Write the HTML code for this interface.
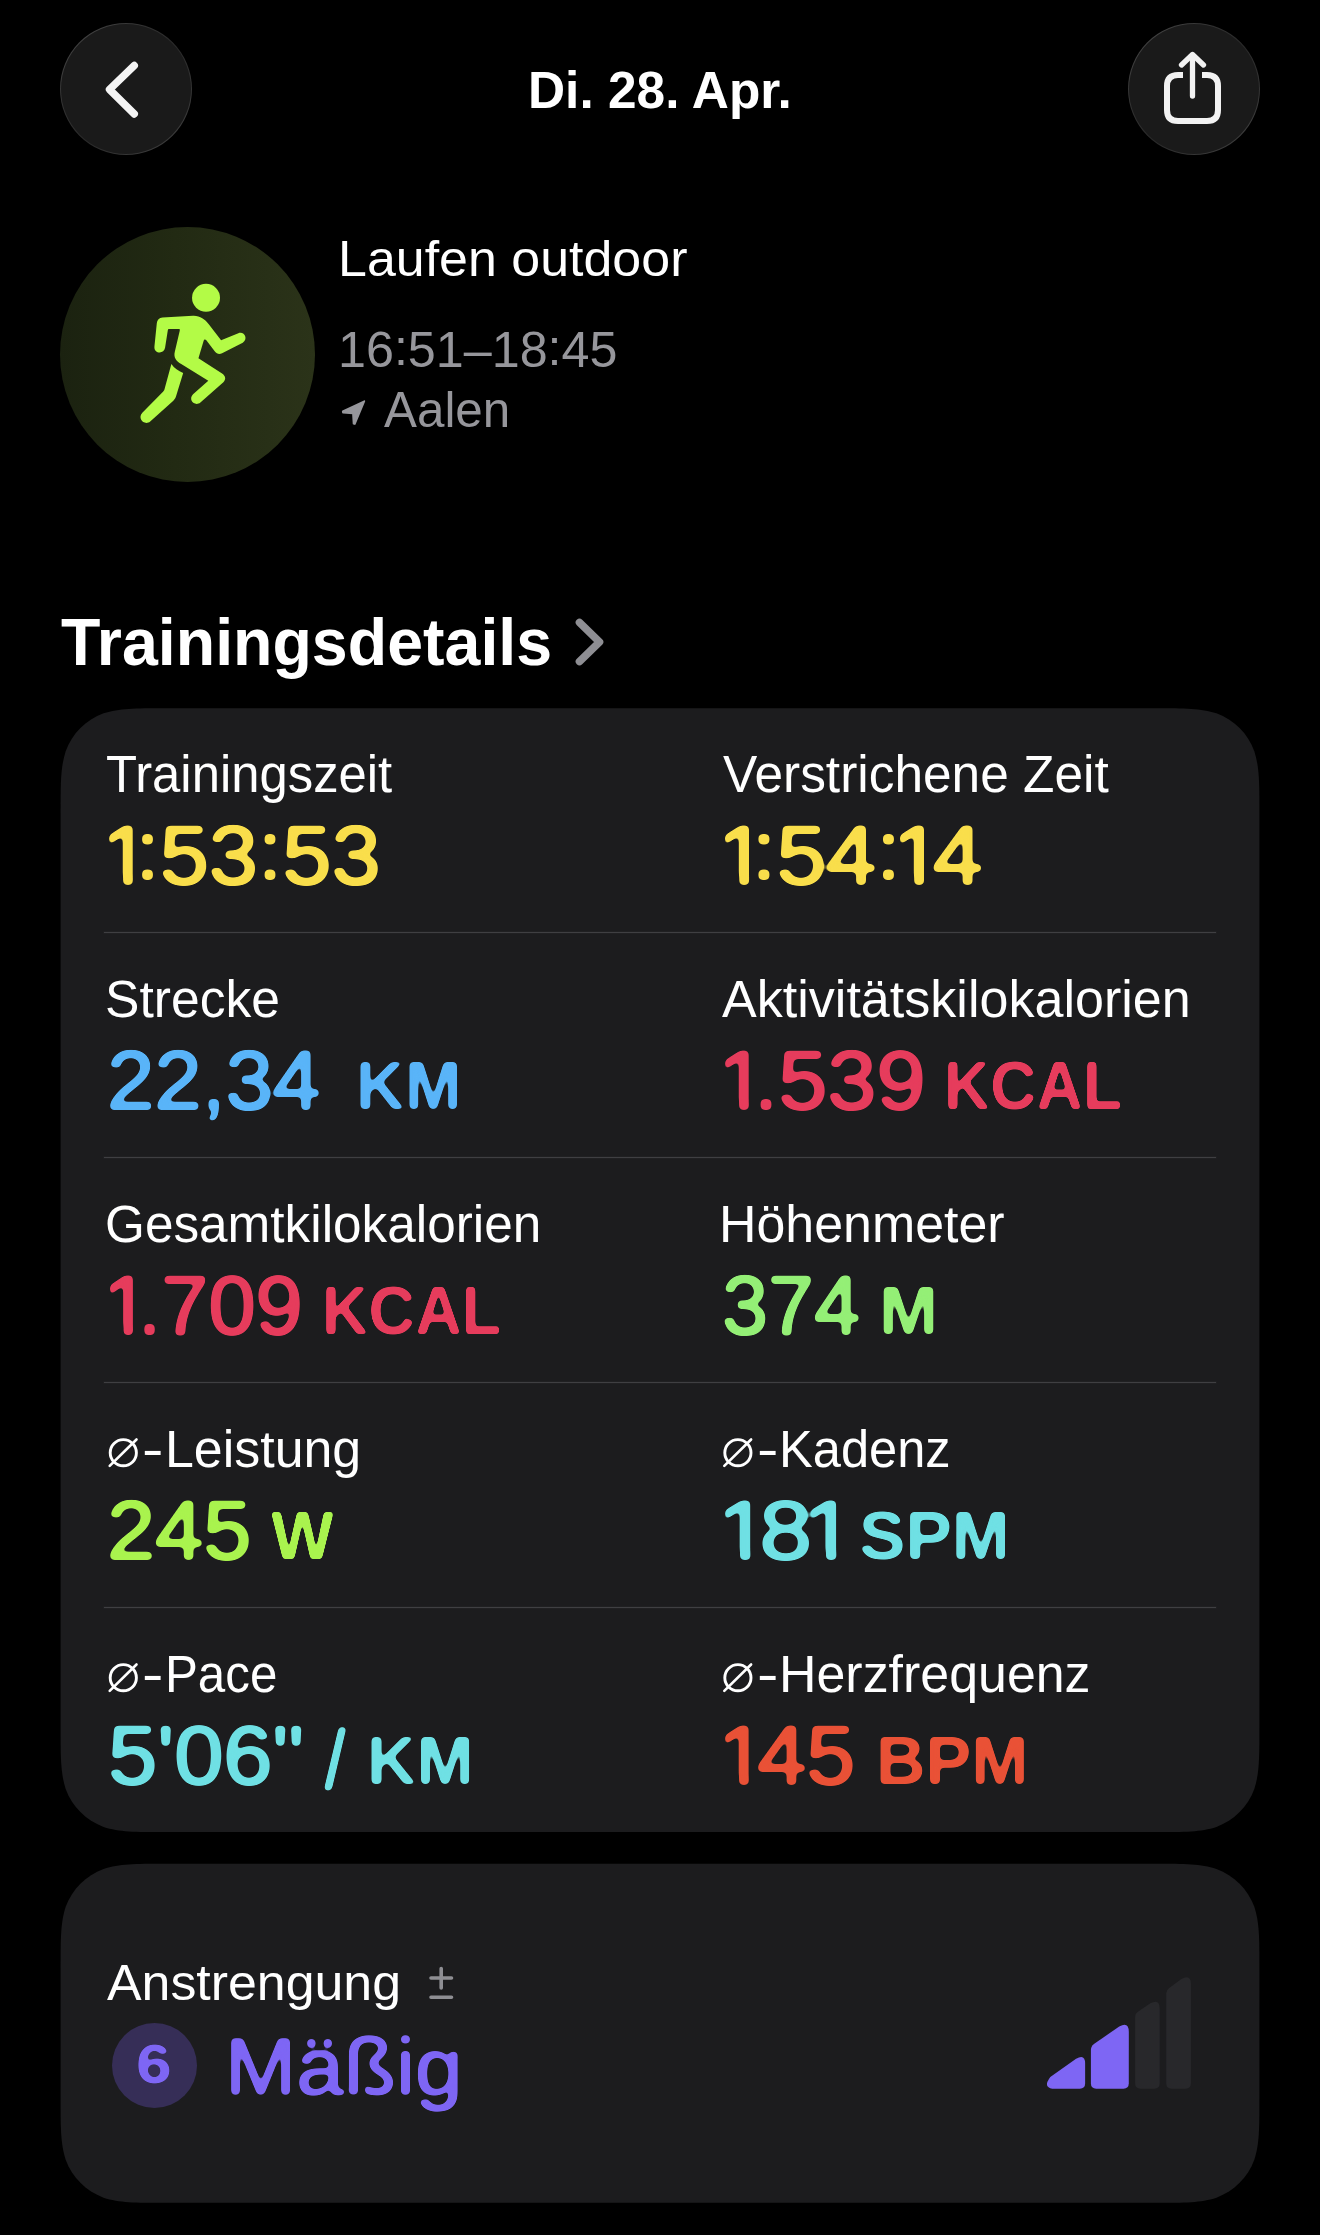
<!DOCTYPE html>
<html lang="de"><head><meta charset="utf-8"><title>Training</title>
<style>
html,body{margin:0;padding:0;background:#000;}
#app{position:relative;width:1320px;height:2235px;background:#000;overflow:hidden;font-family:"Liberation Sans",sans-serif;}
.abs{position:absolute;}
.navbtn{position:absolute;top:23px;width:132px;height:132px;border-radius:50%;box-sizing:border-box;border:1.8px solid transparent;background:linear-gradient(#1a1a1a,#1a1a1a) padding-box,linear-gradient(135deg,#4c4c4c 0%,#303030 35%,#2a2a2a 55%,#444 100%) border-box;}
.divider{position:absolute;left:104px;width:1112px;height:1px;background:#3f3f42;box-shadow:0 0 0 .5px rgba(63,63,66,.25);}
svg{position:absolute;overflow:visible;}
.value{filter:url(#rnd);}
.unit,.effort-num,.effort-text{filter:url(#rnd2);}

.t{position:absolute;height:0;line-height:0;white-space:nowrap;transform-origin:0 0;font-family:"Liberation Sans",sans-serif;}
.one{display:inline-block;width:.285em;height:0;line-height:0;text-indent:-.094em;vertical-align:baseline;
 clip-path:polygon(-.05em -.45em,.258em -.45em,.258em .4em,.149em .4em,.149em .232em,-.05em .232em);}
.one.d{margin-right:.07em;}
.one.p{margin-right:.03em;}
.col{position:relative;top:-.062em;}
</style></head>
<body>
<div id="app">
 <svg width="0" height="0" style="left:0;top:0"><defs>
  <filter id="rnd" x="-5%" y="-30%" width="110%" height="160%" color-interpolation-filters="sRGB"><feGaussianBlur in="SourceGraphic" stdDeviation="2.3"/><feColorMatrix type="matrix" values="1 0 0 0 0  0 1 0 0 0  0 0 1 0 0  0 0 0 7 -3"/></filter>
  <filter id="rnd2" x="-5%" y="-30%" width="110%" height="160%" color-interpolation-filters="sRGB"><feGaussianBlur in="SourceGraphic" stdDeviation="1.9"/><feColorMatrix type="matrix" values="1 0 0 0 0  0 1 0 0 0  0 0 1 0 0  0 0 0 7 -3"/></filter>
 </defs></svg>
 <header>
  <div class="navbtn" style="left:60px"></div>
<svg style="left:0;top:0" width="1320" height="2235" viewBox="0 0 1320 2235" aria-label="Zurück" fill="none" stroke="#f4f4f4" stroke-linecap="round" stroke-linejoin="round">
 <path d="M134.3 65.5 L109.5 89.5 L134.3 114" stroke-width="7.4"/>
</svg>

  <div class="t nav-title" style="left:528.31px;top:89.66px;font-size:51.5px;font-weight:700;color:#ffffff;transform:scaleX(0.9981)">Di. 28. Apr.</div>
  <div class="navbtn" style="left:1128px"></div>
<svg style="left:0;top:0" width="1320" height="2235" viewBox="0 0 1320 2235" aria-label="Teilen" fill="none" stroke="#f2f2f2" stroke-linecap="round" stroke-linejoin="round">
 <path d="M1183 75 L1178 75 Q1167 75 1167 86 L1167 110 Q1167 121 1178 121 L1207 121 Q1218 121 1218 110 L1218 86 Q1218 75 1207 75 L1202 75" stroke-width="6" stroke-linecap="butt"/>
 <path d="M1192.5 96 L1192.5 56" stroke-width="5.3"/>
 <path d="M1181.5 65 L1192.5 54.5 L1203.5 65" stroke-width="5.3"/>
</svg>

 </header>
 <section id="summary">
  <div class="abs" style="left:60px;top:227px;width:255px;height:255px;border-radius:50%;background:linear-gradient(90deg,#1b2210 0%,#222a13 45%,#2b3319 100%)"></div>
  
<svg style="left:130px;top:275px" width="130" height="160" viewBox="0 0 1320 1625" aria-label="Laufen">
 <g fill="#b3fb46">
  <circle cx="772" cy="232" r="142"/>
  <path d="M330 432 L640 415 C710 412 760 450 800 500 L925 662 L1100 592 C1160 568 1205 650 1145 688 L935 795 C905 810 880 800 862 778 L775 662 C765 650 752 652 748 668 L695 845 L935 1000 C975 1028 975 1062 948 1088 L715 1295 C660 1340 585 1270 640 1212 L795 1075 L520 905 C470 875 440 840 455 780 L505 565 C508 552 505 548 492 548 L400 548 C388 548 385 552 384 562 L356 740 C345 810 240 800 248 725 L272 490 C276 455 295 435 330 432 Z"/>
  <path d="M420 905 C450 950 490 975 540 995 L470 1225 C462 1250 455 1262 440 1278 L205 1488 C150 1535 70 1460 125 1400 L335 1185 C345 1175 350 1165 353 1150 Z"/>
 </g>
</svg>

  <div class="t wk-name" style="left:337.67px;top:258.97px;font-size:50.3px;font-weight:400;color:#ffffff;transform:scaleX(1.0326)">Laufen outdoor</div>
<div class="t wk-time" style="left:337.80px;top:349.97px;font-size:50.3px;font-weight:400;color:#96969b;transform:scaleX(0.9989)">16<span class="col" style="top:-.04em">:</span>51–18<span class="col" style="top:-.04em">:</span>45</div>
<div class="t wk-loc" style="left:384.20px;top:410.47px;font-size:50.3px;font-weight:400;color:#96969b;transform:scaleX(0.9817)">Aalen</div>
  
<svg style="left:0;top:0" width="1320" height="2235" viewBox="0 0 1320 2235" fill="#96969b" stroke="#96969b" stroke-linejoin="round" stroke-width="1.8">
 <path d="M364.3 401.2 L342.8 411.4 L343 412.6 L353 413.4 L353.6 423.6 L354.8 424 Z"/>
</svg>

 </section>
 <section id="details">
  <div class="t sec-title" style="left:60.84px;top:641.65px;font-size:67.4px;font-weight:700;color:#ffffff;transform:scaleX(0.9572)">Trainingsdetails</div>
<svg style="left:0;top:0" width="1320" height="2235" viewBox="0 0 1320 2235" fill="none" stroke="#8e8e93" stroke-linecap="round" stroke-linejoin="round">
 <path d="M579.5 622.5 L599.5 642 L579.5 661.5" stroke-width="7.6"/>
</svg>

  <svg class="card" style="left:0;top:0" width="1320" height="2235" viewBox="0 0 1320 2235"><path fill="#1c1c1e" d="M164.55 708.20 L1155.45 708.20 C1185.38 708.20 1200.35 708.20 1216.46 713.29 C1234.05 719.70 1247.90 733.55 1254.31 751.14 C1259.40 767.25 1259.40 782.22 1259.40 812.15 L1259.40 1728.05 C1259.40 1757.98 1259.40 1772.95 1254.31 1789.06 C1247.90 1806.65 1234.05 1820.50 1216.46 1826.91 C1200.35 1832.00 1185.38 1832.00 1155.45 1832.00 L164.55 1832.00 C134.62 1832.00 119.65 1832.00 103.54 1826.91 C85.95 1820.50 72.10 1806.65 65.69 1789.06 C60.60 1772.95 60.60 1757.98 60.60 1728.05 L60.60 812.15 C60.60 782.22 60.60 767.25 65.69 751.14 C72.10 733.55 85.95 719.70 103.54 713.29 C119.65 708.20 134.62 708.20 164.55 708.20Z"/></svg>
  <div class="divider" style="top:932px"></div><div class="divider" style="top:1157px"></div><div class="divider" style="top:1382px"></div><div class="divider" style="top:1607px"></div>
  <svg class="avg" style="left:0;top:0" width="1320" height="2235" viewBox="0 0 1320 2235" aria-label="Durchschnitt"><circle cx="123.3" cy="1452.7" r="13.1" fill="none" stroke="#fff" stroke-width="2.9"/><line x1="109.7" y1="1465.9" x2="136.5" y2="1439.5" stroke="#fff" stroke-width="2.6" stroke-linecap="round"/></svg><svg class="avg" style="left:0;top:0" width="1320" height="2235" viewBox="0 0 1320 2235" aria-label="Durchschnitt"><circle cx="737.9" cy="1452.7" r="13.1" fill="none" stroke="#fff" stroke-width="2.9"/><line x1="724.3" y1="1465.9" x2="751.1" y2="1439.5" stroke="#fff" stroke-width="2.6" stroke-linecap="round"/></svg><svg class="avg" style="left:0;top:0" width="1320" height="2235" viewBox="0 0 1320 2235" aria-label="Durchschnitt"><circle cx="123.3" cy="1677.7" r="13.1" fill="none" stroke="#fff" stroke-width="2.9"/><line x1="109.7" y1="1690.9" x2="136.5" y2="1664.5" stroke="#fff" stroke-width="2.6" stroke-linecap="round"/></svg><svg class="avg" style="left:0;top:0" width="1320" height="2235" viewBox="0 0 1320 2235" aria-label="Durchschnitt"><circle cx="737.9" cy="1677.7" r="13.1" fill="none" stroke="#fff" stroke-width="2.9"/><line x1="724.3" y1="1690.9" x2="751.1" y2="1664.5" stroke="#fff" stroke-width="2.6" stroke-linecap="round"/></svg>
  <div class="t label" style="left:106.30px;top:774.53px;font-size:51px;font-weight:400;color:#ffffff;transform:scaleX(0.9965)">Trainingszeit</div>
<div class="t value" style="left:110.36px;top:856.14px;font-size:83px;font-weight:400;color:#f9de4b;-webkit-text-stroke:2.2px #f9de4b;transform:scaleX(1.0632)"><span class="one">1</span><span class="col">:</span>53<span class="col">:</span>53</div>
<div class="t label" style="left:722.70px;top:774.53px;font-size:51px;font-weight:400;color:#ffffff;transform:scaleX(1.0079)">Verstrichene Zeit</div>
<div class="t value" style="left:726.08px;top:856.14px;font-size:83px;font-weight:400;color:#f9de4b;-webkit-text-stroke:2.2px #f9de4b;transform:scaleX(1.0790)"><span class="one">1</span><span class="col">:</span>54<span class="col">:</span><span class="one d">1</span>4</div>
<div class="t label" style="left:105.28px;top:999.53px;font-size:51px;font-weight:400;color:#ffffff;transform:scaleX(1.0118)">Strecke</div>
<div class="t value" style="left:106.92px;top:1081.14px;font-size:83px;font-weight:400;color:#59b4f8;-webkit-text-stroke:2.2px #59b4f8;transform:scaleX(1.0260)">22,34</div>
<div class="t unit" style="left:356.07px;top:1085.99px;font-size:69px;font-weight:700;color:#59b4f8;transform:scaleX(0.9828)">KM</div>
<div class="t label" style="left:721.80px;top:999.53px;font-size:51px;font-weight:400;color:#ffffff;transform:scaleX(1.0208)">Aktivitätskilokalorien</div>
<div class="t value" style="left:726.06px;top:1081.14px;font-size:83px;font-weight:400;color:#e63c5c;-webkit-text-stroke:2.2px #e63c5c;transform:scaleX(1.0629)"><span class="one p">1</span>.539</div>
<div class="t unit" style="left:943.98px;top:1085.99px;font-size:69px;font-weight:700;color:#e63c5c;transform:scaleX(0.9290)">KCAL</div>
<div class="t label" style="left:104.79px;top:1224.53px;font-size:51px;font-weight:400;color:#ffffff;transform:scaleX(1.0058)">Gesamtkilokalorien</div>
<div class="t value" style="left:111.02px;top:1306.14px;font-size:83px;font-weight:400;color:#e63c5c;-webkit-text-stroke:2.2px #e63c5c;transform:scaleX(1.0215)"><span class="one p">1</span>.709</div>
<div class="t unit" style="left:322.26px;top:1310.99px;font-size:69px;font-weight:700;color:#e63c5c;transform:scaleX(0.9355)">KCAL</div>
<div class="t label" style="left:718.63px;top:1224.53px;font-size:51px;font-weight:400;color:#ffffff;transform:scaleX(1.0178)">Höhenmeter</div>
<div class="t value" style="left:721.61px;top:1306.14px;font-size:83px;font-weight:400;color:#94ef76;-webkit-text-stroke:2.2px #94ef76;transform:scaleX(0.9956)">374</div>
<div class="t unit" style="left:878.59px;top:1310.99px;font-size:69px;font-weight:700;color:#94ef76;transform:scaleX(1.0265)">M</div>
<div class="t label" style="left:164.63px;top:1449.53px;font-size:51px;font-weight:400;color:#ffffff;transform:scaleX(1.0177)">Leistung</div>
<div class="t value" style="left:107.38px;top:1531.14px;font-size:83px;font-weight:400;color:#a9f34e;-webkit-text-stroke:2.2px #a9f34e;transform:scaleX(1.0414)">245</div>
<div class="t unit" style="left:271.40px;top:1535.99px;font-size:69px;font-weight:700;color:#a9f34e;transform:scaleX(0.9631)">W</div>
<div class="t label" style="left:779.33px;top:1449.53px;font-size:51px;font-weight:400;color:#ffffff;transform:scaleX(0.9922)">Kadenz</div>
<div class="t value" style="left:726.14px;top:1531.14px;font-size:83px;font-weight:400;color:#6fe0e4;-webkit-text-stroke:2.2px #6fe0e4;transform:scaleX(1.1367)"><span class="one d">1</span>8<span class="one p">1</span></div>
<div class="t unit" style="left:859.38px;top:1535.99px;font-size:69px;font-weight:700;color:#6fe0e4;transform:scaleX(1.0077)">SPM</div>
<div class="t label" style="left:164.83px;top:1674.53px;font-size:51px;font-weight:400;color:#ffffff;transform:scaleX(0.9664)">Pace</div>
<div class="t value" style="left:108.37px;top:1756.14px;font-size:83px;font-weight:400;color:#6fe0e4;-webkit-text-stroke:2.2px #6fe0e4;transform:scaleX(1.0665)">5'06&quot;</div>
<div class="t unit" style="left:366.52px;top:1760.99px;font-size:69px;font-weight:700;color:#6fe0e4;transform:scaleX(0.9949)">KM</div>
<div class="t label" style="left:779.23px;top:1674.53px;font-size:51px;font-weight:400;color:#ffffff;transform:scaleX(1.0177)">Herzfrequenz</div>
<div class="t value" style="left:726.06px;top:1756.14px;font-size:83px;font-weight:400;color:#e95136;-webkit-text-stroke:2.2px #e95136;transform:scaleX(1.0608)"><span class="one d">1</span>45</div>
<div class="t unit" style="left:875.52px;top:1760.99px;font-size:69px;font-weight:700;color:#e95136;transform:scaleX(0.9938)">BPM</div>
<div class="t dash" style="left:142.28px;top:1450.03px;font-size:51px;font-weight:400;color:#ffffff;transform:scaleX(1.2615)">-</div>
<div class="t dash" style="left:756.88px;top:1450.03px;font-size:51px;font-weight:400;color:#ffffff;transform:scaleX(1.2615)">-</div>
<div class="t dash" style="left:142.28px;top:1675.03px;font-size:51px;font-weight:400;color:#ffffff;transform:scaleX(1.2615)">-</div>
<div class="t dash" style="left:756.88px;top:1675.03px;font-size:51px;font-weight:400;color:#ffffff;transform:scaleX(1.2615)">-</div>
<div class="t value" style="left:324.88px;top:1761.14px;font-size:83px;font-weight:400;color:#6fe0e4;-webkit-text-stroke:2.2px #6fe0e4;transform:scaleX(0.8769)">/</div>
 </section>
 <section id="effort">
  <svg class="card" style="left:0;top:0" width="1320" height="2235" viewBox="0 0 1320 2235"><path fill="#1c1c1e" d="M164.55 1863.80 L1155.45 1863.80 C1185.38 1863.80 1200.35 1863.80 1216.46 1868.89 C1234.05 1875.30 1247.90 1889.15 1254.31 1906.74 C1259.40 1922.85 1259.40 1937.82 1259.40 1967.75 L1259.40 2098.85 C1259.40 2128.78 1259.40 2143.75 1254.31 2159.86 C1247.90 2177.45 1234.05 2191.30 1216.46 2197.71 C1200.35 2202.80 1185.38 2202.80 1155.45 2202.80 L164.55 2202.80 C134.62 2202.80 119.65 2202.80 103.54 2197.71 C85.95 2191.30 72.10 2177.45 65.69 2159.86 C60.60 2143.75 60.60 2128.78 60.60 2098.85 L60.60 1967.75 C60.60 1937.82 60.60 1922.85 65.69 1906.74 C72.10 1889.15 85.95 1875.30 103.54 1868.89 C119.65 1863.80 134.62 1863.80 164.55 1863.80Z"/></svg>
  <div class="t label" style="left:107.00px;top:1983.27px;font-size:50px;font-weight:400;color:#ffffff;transform:scaleX(1.0368)">Anstrengung</div>
<svg style="left:0;top:0" width="1320" height="2235" viewBox="0 0 1320 2235" fill="none" stroke="#8e8e93" stroke-linecap="round" stroke-width="3.6">
 <path d="M431 1978 L451.5 1978 M441.2 1968.5 L441.2 1988 M431 1997.3 L451.5 1997.3"/>
</svg>

  <div class="abs" style="left:112px;top:2022.5px;width:85px;height:85px;border-radius:50%;background:#362e57"></div>
  <div class="t effort-num" style="left:136.06px;top:2064.24px;font-size:55px;font-weight:700;color:#7e66f4;transform:scaleX(1.1704)">6</div>
  <div class="t effort-text" style="left:225.43px;top:2065.91px;font-size:80.5px;font-weight:400;color:#7e66f4;-webkit-text-stroke:1.5px #7e66f4;transform:scaleX(1.0617)">Mäßig</div>
  
<svg style="left:1020px;top:1950px" width="200" height="160" viewBox="0 0 1320 1056" aria-label="Anstrengung 6 von 10">
 <path fill="#7e66f4" d="M200 838 L370 718 Q430 682 430 750 L430 880 Q430 915 395 915 L213 915 Q150 905 200 838 Z"/>
 <path fill="#7e66f4" d="M468 660 Q468 635 488 620 L655 505 Q718 470 718 540 L718 880 Q718 915 683 915 L503 915 Q468 915 468 880 Z"/>
 <path fill="#28282b" d="M760 440 Q760 420 778 408 L860 352 Q922 320 922 385 L922 880 Q922 915 887 915 L795 915 Q760 915 760 880 Z"/>
 <path fill="#28282b" d="M965 285 Q965 265 983 252 L1065 192 Q1128 158 1128 225 L1128 880 Q1128 915 1093 915 L1000 915 Q965 915 965 880 Z"/>
</svg>

 </section>
</div>
</body></html>
